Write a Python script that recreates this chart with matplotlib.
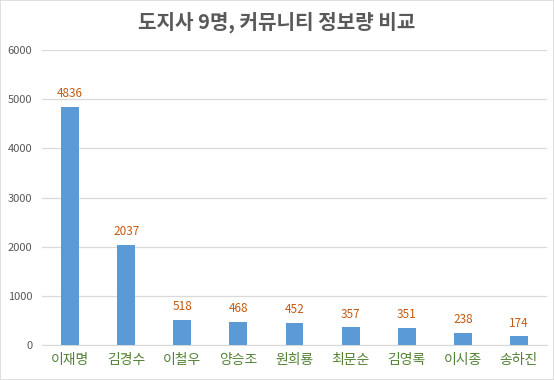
import matplotlib
matplotlib.use("Agg")
import matplotlib.pyplot as plt
from matplotlib.patches import Rectangle

plt.rcParams['font.family'] = ['Noto Sans CJK KR', 'DejaVu Sans']

names = ["이재명", "김경수", "이철우", "양승조", "원희룡", "최문순", "김영록", "이시종", "송하진"]
counts = [4836, 2037, 518, 468, 452, 357, 351, 238, 174]
yticks = [0, 1000, 2000, 3000, 4000, 5000, 6000]

fig = plt.figure(figsize=(5.54, 3.80), dpi=100)
ax = fig.add_axes([42 / 554, 1 - 345 / 380, 505 / 554, 295 / 380])

x = range(len(names))
bars = ax.bar(x, counts, width=0.32, color="#5B9BD5", zorder=3)
for xi, v in zip(x, counts):
    ax.annotate(str(v), (xi, v), xytext=(0, 5), textcoords="offset points",
                ha="center", va="bottom", fontsize=8.5, color="#C55A11")

ax.set_xlim(-0.5, len(names) - 0.5)
ax.set_ylim(0, 6000)
ax.set_yticks(yticks)
ax.set_yticklabels([str(t) for t in yticks], fontsize=8, color="#595959")
ax.set_xticks(list(x))
ax.set_xticklabels(names, fontsize=10, color="#548235")
ax.tick_params(axis="both", length=0)
ax.tick_params(axis="y", pad=7)
ax.tick_params(axis="x", pad=6)
ax.grid(axis="y", color="#D9D9D9", linewidth=0.9, zorder=0)
for s in ["top", "right", "left"]:
    ax.spines[s].set_visible(False)
ax.spines["bottom"].set_color("#D9D9D9")

fig.text(0.5, 1 - 22 / 380, "도지사 9명, 커뮤니티 정보량 비교", ha="center", va="center",
         fontsize=14.5, fontweight="bold", color="#595959")

fig.patches.append(Rectangle((0, 0), 1, 1, transform=fig.transFigure, fill=False,
                             edgecolor="#D9D9D9", linewidth=1.2))

fig.savefig("out.png", dpi=100)
